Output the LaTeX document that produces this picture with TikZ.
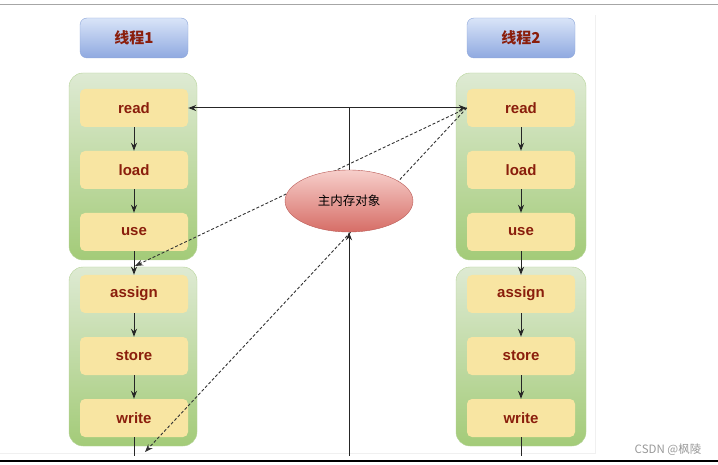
\documentclass[tikz,border=0pt]{standalone}
\usepackage{fontspec}
\setmainfont{Liberation Sans}
\newfontfamily\cjk{Noto Sans CJK SC}
\usetikzlibrary{shapes.geometric, arrows.meta}

\definecolor{headtop}{HTML}{D9E4F8}
\definecolor{headbot}{HTML}{8FA9E0}
\definecolor{headline}{HTML}{8DA6D9}
\definecolor{grntop}{HTML}{DEEAD3}
\definecolor{grnbot}{HTML}{A3CB78}
\definecolor{grnline}{HTML}{B5D398}
\definecolor{yel}{HTML}{F8E5A2}
\definecolor{txtred}{HTML}{8A1E0C}
\definecolor{memtop}{HTML}{F7CFCB}
\definecolor{membot}{HTML}{D66D66}
\definecolor{memline}{HTML}{B95A55}

\tikzset{
  thread/.style={draw=headline, rounded corners=7pt, top color=headtop, bottom color=headbot,
    minimum width=108pt, minimum height=40pt, font=\cjk\bfseries\fontsize{15}{17}\selectfont, text=txtred},
  group/.style={draw=grnline, rounded corners=14pt, top color=grntop, bottom color=grnbot,
    minimum width=128pt},
  op/.style={fill=yel, rounded corners=5pt, minimum width=108pt, minimum height=38pt,
    font=\bfseries\fontsize{15}{17}\selectfont, text=txtred},
  flow/.style={->, line width=1pt, black!85},
  sync/.style={->, line width=0.9pt, gray!40!black, dash pattern=on 3pt off 2pt}
}

\begin{document}
\begin{tikzpicture}[>={Stealth[length=8pt,width=6pt]}, x=1pt, y=-1pt]
  \useasboundingbox (0,0) rectangle (718,465);
  % page frame of the screenshot
  \draw[gray!70, line width=1pt] (0,5) -- (718,5);
  \draw[gray!12] (595,15) -- (595,453) -- (0,453);
  % thread headers
  \node[thread] (t1) at (134,38) {线程1};
  \node[thread] (t2) at (521,38) {线程2};
  % green groups
  \node[group, minimum height=187pt] (g1) at (133,166.5) {};
  \node[group, minimum height=179pt] (g2) at (133,356.5) {};
  \node[group, minimum width=130pt, minimum height=187pt] (g3) at (521,166.5) {};
  \node[group, minimum width=130pt, minimum height=179pt] (g4) at (521,356.5) {};
  % the six operations, left and right
  \foreach \s/\x in {1/134, 2/521} {
    \node[op] (read\s)   at (\x,108) {read};
    \node[op] (load\s)   at (\x,170) {load};
    \node[op] (use\s)    at (\x,232) {use};
    \node[op] (assign\s) at (\x,294) {assign};
    \node[op] (store\s)  at (\x,356) {store};
    \node[op] (write\s)  at (\x,418) {write};
    \draw[flow] (read\s) -- (load\s);
    \draw[flow] (load\s) -- (use\s);
    \draw[flow] (use\s) -- (assign\s);
    \draw[flow] (assign\s) -- (store\s);
    \draw[flow] (store\s) -- (write\s);
    \coordinate (out\s) at (\x,456);
    \draw[flow, -] (write\s) -- (out\s);
  }
  % dashed links, behind the main memory
  \coordinate (d1) at (135,266);
  \coordinate (d2) at (145,452);
  \draw[sync] (read2.west) -- (d1);
  \draw[sync] (read2.west) -- (d2);
  % main memory
  \node[ellipse, draw=memline, top color=memtop, bottom color=membot,
    minimum width=128pt, minimum height=62pt, font=\cjk\fontsize{12.5}{14}\selectfont] (mem) at (349,201) {主内存对象};
  \coordinate (jtop) at (349,108);
  \coordinate (jbot) at (349,456);
  \draw[flow, -] (mem.north) -- (jtop);
  \draw[flow] (jtop) -- (read1.east);
  \draw[flow] (jtop) -- (read2.west);
  \draw[flow] (jbot) -- (mem.south);
  % bottom edge and mark
  \draw[line width=2pt] (0,461) -- (718,461);
  \node[text=gray!80, font=\cjk\fontsize{11.5}{13}\selectfont] (mark) at (668,450) {CSDN @枫陵};
\end{tikzpicture}
\end{document}
